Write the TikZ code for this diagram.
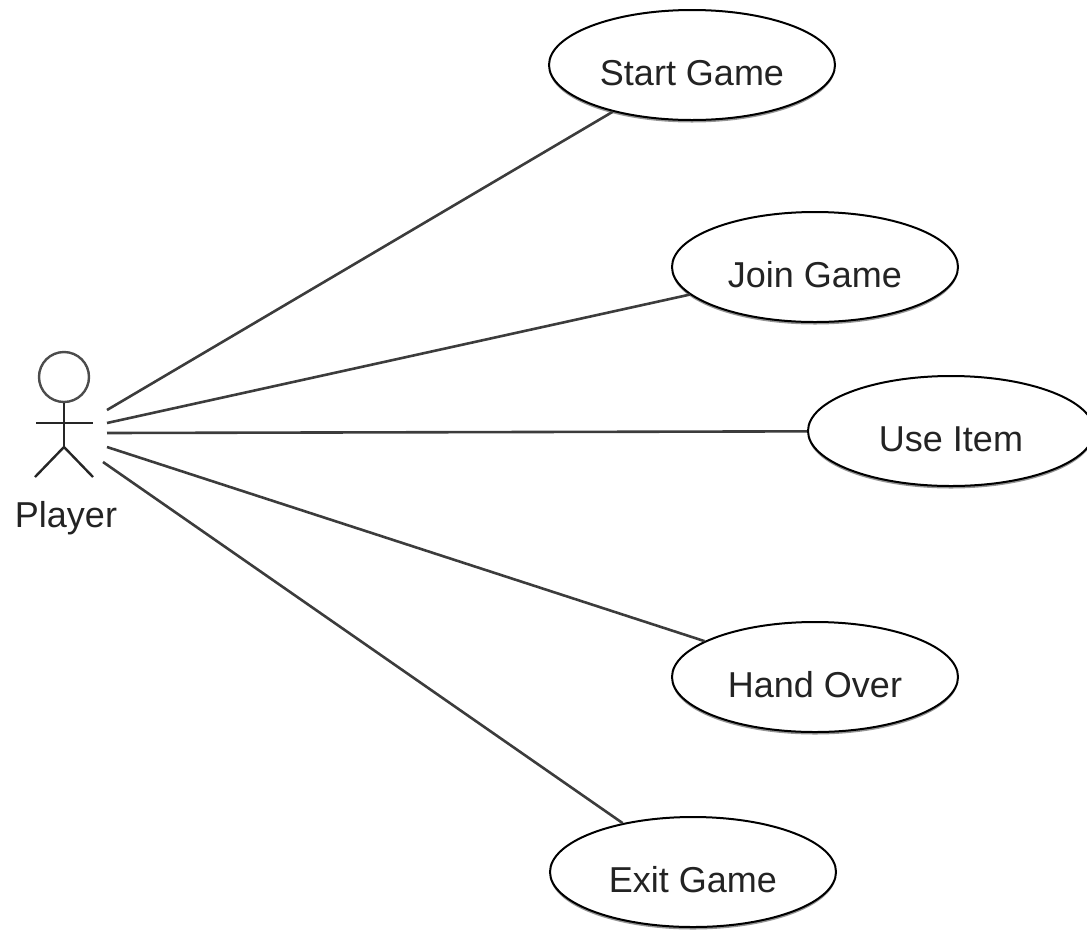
\documentclass[tikz,border=0pt]{standalone}
\usepackage{fontspec}
\setmainfont{Liberation Sans}
\usepackage{xcolor}
\usetikzlibrary{positioning}
\usetikzlibrary{shapes.geometric}
\usetikzlibrary{shadows}
\definecolor{linecolor}{RGB}{60, 60, 60}
\definecolor{textcolor}{RGB}{35, 35, 35}
\tikzstyle{usecase} = [
	ellipse,
	draw=black,
	line width=2pt,
	fill=white,
	text=textcolor,
	minimum width=286pt,
	minimum height=110pt,
	inner sep=0pt,
	text height=40pt,
	text depth=0pt,
	font=\fontsize{36}{40}\selectfont,
	drop shadow={shadow xshift=0pt, shadow yshift=-2.5pt, opacity=0.6, fill=black!70}
]
\tikzstyle{assoc} = [
	line width=2.6pt,
	draw=linecolor
]
\tikzstyle{stick} = [
	line width=2.4pt,
	draw=black!85
]
\tikzstyle{head} = [
	circle,
	draw=black!70,
	line width=2.4pt,
	minimum size=50pt,
	inner sep=0pt
]
\tikzstyle{actorname} = [
	text=textcolor,
	font=\fontsize{36}{40}\selectfont,
	inner sep=0pt
]

\begin{document}
\begin{tikzpicture}[x=1pt, y=-1pt, node distance=0pt and 0pt]
	\useasboundingbox (0,0) rectangle (1087,930);

	%
	% Actor
	\node[head] (head) at (64,377) {};
	\coordinate (hip) at (64,447);
	\coordinate (lhand) at (36,423);
	\coordinate (rhand) at (93,423);
	\coordinate (lfoot) at (35,477);
	\coordinate (rfoot) at (93,477);
	\coordinate (feet) at (66,477);
	\draw[stick] (head.south)--(hip);
	\draw[stick] (lhand)--(rhand);
	\draw[stick] (lfoot)--(hip)--(rfoot);
	\node[actorname, below=24pt of feet] (player) {Player};

	%
	% Use cases
	\node[usecase] (start) at (692,65) {Start Game};
	\node[usecase] (join) at (815,267) {Join Game};
	\node[usecase] (use) at (951,431) {Use Item};
	\node[usecase] (hand) at (815,677) {Hand Over};
	\node[usecase] (exit) at (693,872) {Exit Game};

	%
	% Associations
	\coordinate (p1) at (107,410);
	\coordinate (p2) at (107,423);
	\coordinate (p3) at (107,433);
	\coordinate (p4) at (107,447);
	\coordinate (p5) at (103,462);
	\draw[assoc] (p1)--(start);
	\draw[assoc] (p2)--(join);
	\draw[assoc] (p3)--(use);
	\draw[assoc] (p4)--(hand);
	\draw[assoc] (p5)--(exit);
\end{tikzpicture}
\end{document}
